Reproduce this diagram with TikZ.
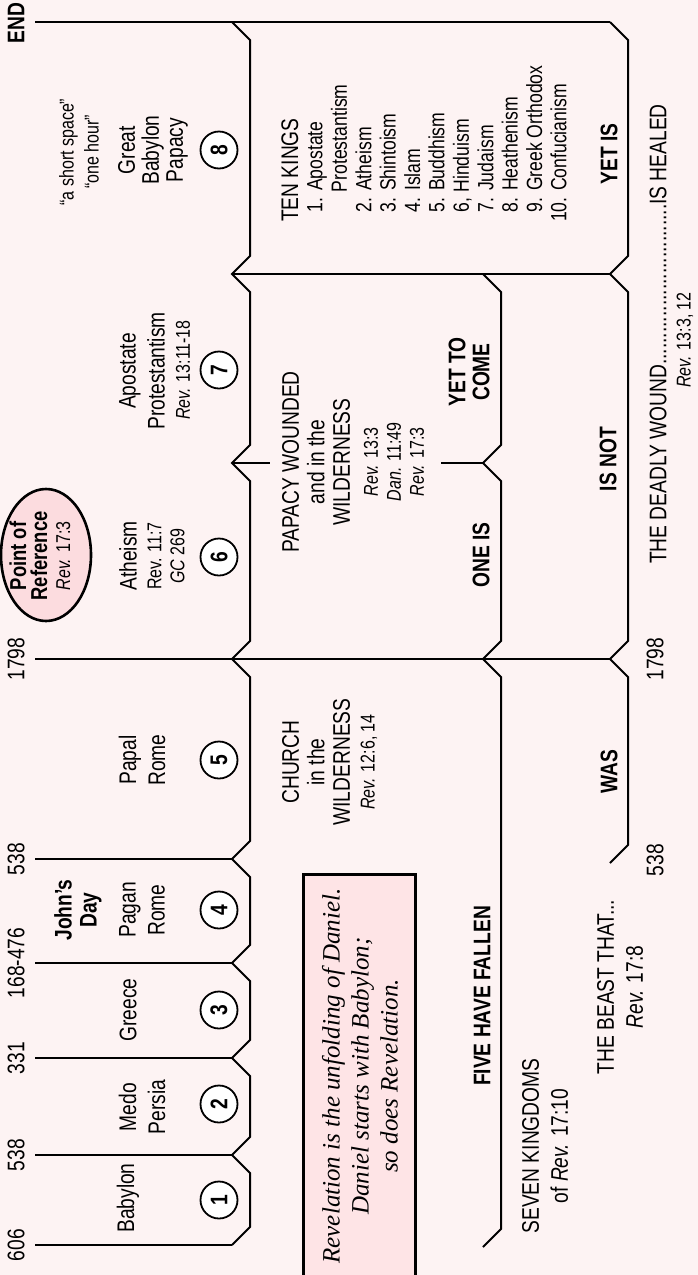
\documentclass[tikz,border=0pt]{standalone}
\usepackage{fontspec}
\setmainfont[FakeStretch=0.8]{Liberation Sans}
\newfontfamily\calloutfont{Liberation Serif}
\usetikzlibrary{shapes.geometric}
\definecolor{paper}{RGB}{253,243,243}
\definecolor{calloutpink}{RGB}{254,228,230}
\definecolor{refpink}{RGB}{252,220,223}

\begin{document}
\begin{tikzpicture}[x=1pt, y=-1pt,
  every node/.append style={rotate=90, inner sep=0pt},
  rim/.style={line width=2pt},
  kingdom/.style={font=\fontsize{24}{29}\selectfont, align=center},
  verse/.style={font=\fontsize{20}{23}\selectfont, align=center},
  tag/.style={font=\bfseries\fontsize{24}{24}\selectfont, align=center},
  date/.style={font=\fontsize{24}{24}\selectfont},
  num/.style={circle, draw, line width=1.8pt, fill=white, minimum size=37pt,
              font=\bfseries\fontsize{24}{24}\selectfont}
]
\fill[paper] (0,0) rectangle (698,1275);
\useasboundingbox (0,0) rectangle (698,1275);

% first column: dates and kingdoms
\foreach \yy/\yr [count=\i] in {1245/606, 1155/538, 1058/331, 963/168-476, 859/538} {
  \draw[rim] (35,\yy) -- (232,\yy);
  \node[date] (yr\i) at (16,\yy) {\yr};
}
\draw[rim] (35,659) -- (610,659);
\node[date] (yr1798) at (16,659) {1798};
\draw[rim] (35,22) -- (610,22);
\node[date, font=\bfseries\fontsize{24}{24}\selectfont] (yrend) at (16,23) {END};
\draw[rim] (232,274) -- (610,274);
\draw[rim] (232,463) -- (270,463);
\draw[rim] (232,1245) -- (250,1227) -- (250,1173) -- (232,1155) -- (250,1137)
  -- (250,1076) -- (232,1058) -- (250,1040) -- (250,981) -- (232,963) -- (250,945)
  -- (250,877) -- (232,859) -- (250,841) -- (250,677) -- (232,659) -- (250,641)
  -- (250,481) -- (232,463) -- (250,445) -- (250,292) -- (232,274) -- (250,256)
  -- (250,40) -- (232,22);

\node[kingdom] (babylon) at (128,1198) {Babylon};
\node[kingdom] (medo) at (142,1107) {Medo\\Persia};
\node[kingdom] (greece) at (128,1010) {Greece};
\node[tag, font=\bfseries\fontsize{24}{25}\selectfont] (johnsday) at (78,910) {John’s\\Day};
\node[kingdom] (pagan) at (142,910) {Pagan\\Rome};
\node[kingdom] (papal) at (142,760) {Papal\\Rome};
\node[kingdom] (atheism) at (128,556) {Atheism};
\node[verse] (atheismref) at (166,556) {Rev. 11:7\\\textit{GC} 269};
\node[kingdom] (apostate) at (142,371) {Apostate\\Protestantism};
\node[verse] (apostateref) at (183,370) {\textit{Rev.} 13:11-18};
\node[verse, font=\fontsize{20}{25}\selectfont] (shortspace) at (79,152) {“a short space”\\“one hour”};
\node[kingdom, font=\fontsize{24}{24}\selectfont] (great) at (153,150) {Great\\Babylon\\Papacy};
\foreach \n/\yy in {1/1200, 2/1104, 3/1010, 4/910, 5/760, 6/557, 7/370, 8/150}
  \node[num] (n\n) at (219,\yy) {\n};

\node[ellipse, draw, line width=2.6pt, fill=refpink, minimum width=132pt,
      minimum height=90pt] (pointref) at (46,555) {};
\node[align=center, font=\bfseries\fontsize{23}{21}\selectfont] (pointtxt) at (40,556)
  {Point of\\Reference\\[2pt]{\mdseries\fontsize{20}{20}\selectfont\textit{Rev.} 17:3}};

% second column
\draw[rim] (483,1247) -- (501,1229) -- (501,677) -- (483,659) -- (501,641)
  -- (501,481) -- (483,463) -- (501,445) -- (501,292) -- (483,274);
\draw[rim] (441,463) -- (483,463);
\node[kingdom, font=\fontsize{24}{25.5}\selectfont] (church) at (316,762) {CHURCH\\in the\\WILDERNESS};
\node[verse] (churchref) at (369,762) {\textit{Rev.} 12:6, 14};
\draw[line width=3pt, fill=calloutpink] (303,1290) -- (303,874) -- (415,874) -- (415,1290);
\node[align=center, font=\calloutfont\itshape\fontsize{25}{29}\selectfont] (callout) at (360,1076)
  {Revelation is the unfolding of Daniel.\\Daniel starts with Babylon;\\so does Revelation.};
\node[tag] (fivefallen) at (482,996) {FIVE HAVE FALLEN};
\node[kingdom, font=\fontsize{24}{25.5}\selectfont] (wounded) at (316,462) {PAPACY WOUNDED\\and in the\\WILDERNESS};
\node[verse] (woundedref) at (394,462) {\textit{Rev.} 13:3\\\textit{Dan.} 11:49\\\textit{Rev.} 17:3};
\node[tag] (oneis) at (481,555) {ONE IS};
\node[tag] (yettocome) at (469,372) {YET TO\\COME};
\node[anchor=west, align=left, font=\fontsize{22}{24.4}\selectfont] (tenkings) at (424,222)
  {{\fontsize{24}{24.4}\selectfont TEN KINGS}\\
   \hphantom{1}1. Apostate\\
   \hphantom{11. }Protestantism\\
   \hphantom{1}2. Atheism\\
   \hphantom{1}3. Shintoism\\
   \hphantom{1}4. Islam\\
   \hphantom{1}5. Buddhism\\
   \hphantom{1}6, Hinduism\\
   \hphantom{1}7. Judaism\\
   \hphantom{1}8. Heathenism\\
   \hphantom{1}9. Greek Orthodox\\
   10. Confucianism};

% third column
\draw[rim] (610,863) -- (628,845) -- (628,677) -- (610,659) -- (628,641)
  -- (628,292) -- (610,274) -- (628,256) -- (628,40) -- (610,22);
\node[tag] (yetis) at (609,154) {YET IS};
\node[tag] (isnot) at (608,459) {IS NOT};
\node[tag] (was) at (609,772) {WAS};

% beyond the columns
\node[date] (yr538b) at (655,860) {538};
\node[date] (yr1798b) at (655,659) {1798};
\node[kingdom, anchor=west] (deadly) at (658,564)
  {THE DEADLY WOUND..............................IS HEALED};
\node[verse] (deadlyref) at (685,340) {\textit{Rev.} 13:3, 12};
\node[kingdom] (seven) at (545,1146) {SEVEN KINGDOMS\\of \textit{Rev.} 17:10};
\node[kingdom] (beast) at (620,987) {THE BEAST THAT...\\\textit{Rev.} 17:8};
\end{tikzpicture}
\end{document}
